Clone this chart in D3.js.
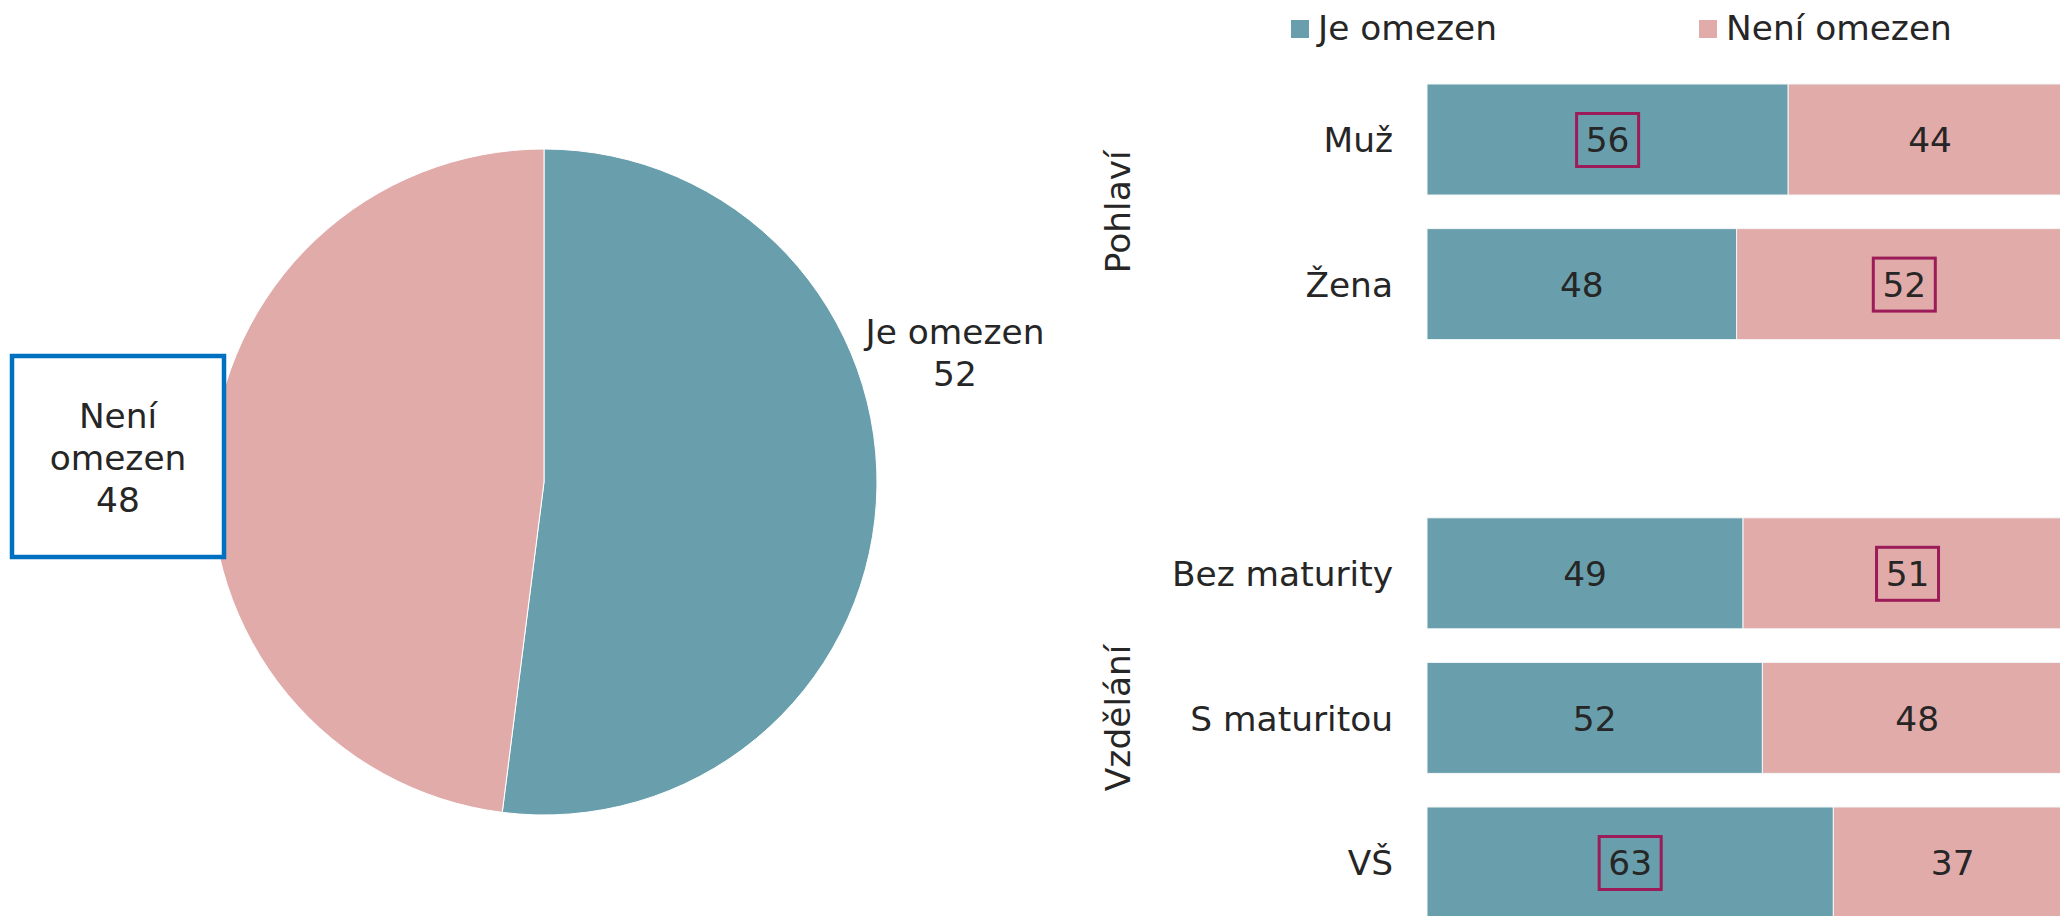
<!DOCTYPE html>
<html>
<head>
<meta charset="utf-8">
<script src="https://d3js.org/d3.v7.min.js"></script>
<style>
  body { margin: 0; background: #fff; }
  text { font-family: "DejaVu Sans", Verdana, sans-serif; fill: #262626; }
</style>
</head>
<body>
<script>
// pie data
var pieNames = ["Je omezen", "Není omezen"];
var pieValues = [52, 48];

// bar data (empty key = gap between the two groups)
var barKeys = ["Muž", "Žena", "", "Bez maturity", "S maturitou", "VŠ"];
var jeOmezen = [56, 48, null, 49, 52, 63];
var neniOmezen = [44, 52, null, 51, 48, 37];
// which value gets the little frame: 0 = Je omezen, 1 = Není omezen, -1 none
var highlight = [0, 1, -1, 1, -1, 0];
var groups = [
  {name: "Pohlaví", first: "Muž", last: "Žena"},
  {name: "Vzdělání", first: "Bez maturity", last: "VŠ"}
];

var colors = ["#699fac", "#e1abaa"];
var fontSize = 34.4;

var svg = d3.select("body").append("svg")
    .attr("width", 2060)
    .attr("height", 916);

// ---------- pie ----------
var cx = 544, cy = 482, r = 333;

var pie = d3.pie().sort(null).value(function(d) { return d; });
var arc = d3.arc().innerRadius(0).outerRadius(r);

var pieG = svg.append("g").attr("transform", "translate(" + cx + "," + cy + ")");
pieG.selectAll("path")
    .data(pie(pieValues))
    .enter()
    .append("path")
    .attr("d", arc)
    .attr("fill", function(d, i) { return colors[i]; })
    .attr("stroke", "#fff")
    .attr("stroke-width", 1);

// label for Je omezen
var lab1 = svg.append("text")
    .attr("text-anchor", "middle")
    .attr("font-size", fontSize);
lab1.append("tspan").attr("x", 955).attr("y", 344).text(pieNames[0]);
lab1.append("tspan").attr("x", 955).attr("y", 386).text(pieValues[0]);

// framed label for Není omezen
svg.append("rect")
    .attr("x", 12).attr("y", 356)
    .attr("width", 212).attr("height", 201)
    .attr("fill", "#fff")
    .attr("stroke", "#0070c0")
    .attr("stroke-width", 4.5);

var lab2 = svg.append("text")
    .attr("text-anchor", "middle")
    .attr("font-size", fontSize);
lab2.append("tspan").attr("x", 118).attr("y", 428).text("Není");
lab2.append("tspan").attr("x", 118).attr("y", 470).text("omezen");
lab2.append("tspan").attr("x", 118).attr("y", 512).text(pieValues[1]);

// ---------- legend ----------
var legendX = [1291, 1699];
var legend = svg.selectAll(".legend")
    .data(pieNames)
    .enter()
    .append("g")
    .attr("class", "legend")
    .attr("transform", function(d, i) { return "translate(" + legendX[i] + ",0)"; });
legend.append("rect")
    .attr("x", 0).attr("y", 20)
    .attr("width", 18).attr("height", 18)
    .attr("fill", function(d, i) { return colors[i]; });
legend.append("text")
    .attr("x", 27).attr("y", 40)
    .attr("font-size", fontSize)
    .text(function(d) { return d; });

// ---------- stacked bars ----------
var xScale = d3.scaleLinear()
    .domain([0, 100])
    .range([1427, 2072]);

var yScale = d3.scaleBand()
    .domain(barKeys)
    .range([67.2, 934.8])
    .paddingInner(0.2324)
    .paddingOuter(0.1162);

var rows = [];
barKeys.forEach(function(k, i) {
  if (jeOmezen[i] == null) return;
  rows.push({key: k, v: jeOmezen[i], x0: 0, s: 0, hl: highlight[i] === 0});
  rows.push({key: k, v: neniOmezen[i], x0: jeOmezen[i], s: 1, hl: highlight[i] === 1});
});

svg.selectAll(".bar")
    .data(rows)
    .enter()
    .append("rect")
    .attr("class", "bar")
    .attr("x", function(d) { return xScale(d.x0); })
    .attr("y", function(d) { return yScale(d.key); })
    .attr("width", function(d) { return xScale(d.x0 + d.v) - xScale(d.x0); })
    .attr("height", yScale.bandwidth())
    .attr("fill", function(d) { return colors[d.s]; })
    .attr("stroke", "#f4f7f8")
    .attr("stroke-width", 1);

function midX(d) { return (xScale(d.x0) + xScale(d.x0 + d.v)) / 2; }
function midY(d) { return yScale(d.key) + yScale.bandwidth() / 2; }

// frames round the picked values
svg.selectAll(".hl")
    .data(rows.filter(function(d) { return d.hl; }))
    .enter()
    .append("rect")
    .attr("class", "hl")
    .attr("x", function(d) { return midX(d) - 31; })
    .attr("y", function(d) { return midY(d) - 26; })
    .attr("width", 62)
    .attr("height", 53)
    .attr("fill", "none")
    .attr("stroke", "#9b1c58")
    .attr("stroke-width", 3);

svg.selectAll(".val")
    .data(rows)
    .enter()
    .append("text")
    .attr("class", "val")
    .attr("x", midX)
    .attr("y", midY)
    .attr("dy", "0.37em")
    .attr("text-anchor", "middle")
    .attr("font-size", fontSize)
    .text(function(d) { return d.v; });

// category axis
var yAxis = d3.axisLeft(yScale)
    .tickSize(0)
    .tickPadding(34)
    .tickValues(barKeys.filter(function(k) { return k !== ""; }));

var yGuide = svg.append("g")
    .attr("transform", "translate(" + xScale(0) + ",0)")
    .call(yAxis);
yGuide.select(".domain").remove();
yGuide.selectAll("text")
    .attr("font-size", fontSize)
    .attr("font-family", "DejaVu Sans, Verdana, sans-serif")
    .attr("fill", "#262626")
    .attr("dy", "0.37em");

// group titles
svg.selectAll(".grp")
    .data(groups)
    .enter()
    .append("text")
    .attr("class", "grp")
    .attr("text-anchor", "middle")
    .attr("font-size", fontSize)
    .attr("transform", function(d) {
      var y = (yScale(d.first) + yScale(d.last) + yScale.bandwidth()) / 2;
      return "translate(1130," + y + ") rotate(-90)";
    })
    .text(function(d) { return d.name; });
</script>
</body>
</html>
